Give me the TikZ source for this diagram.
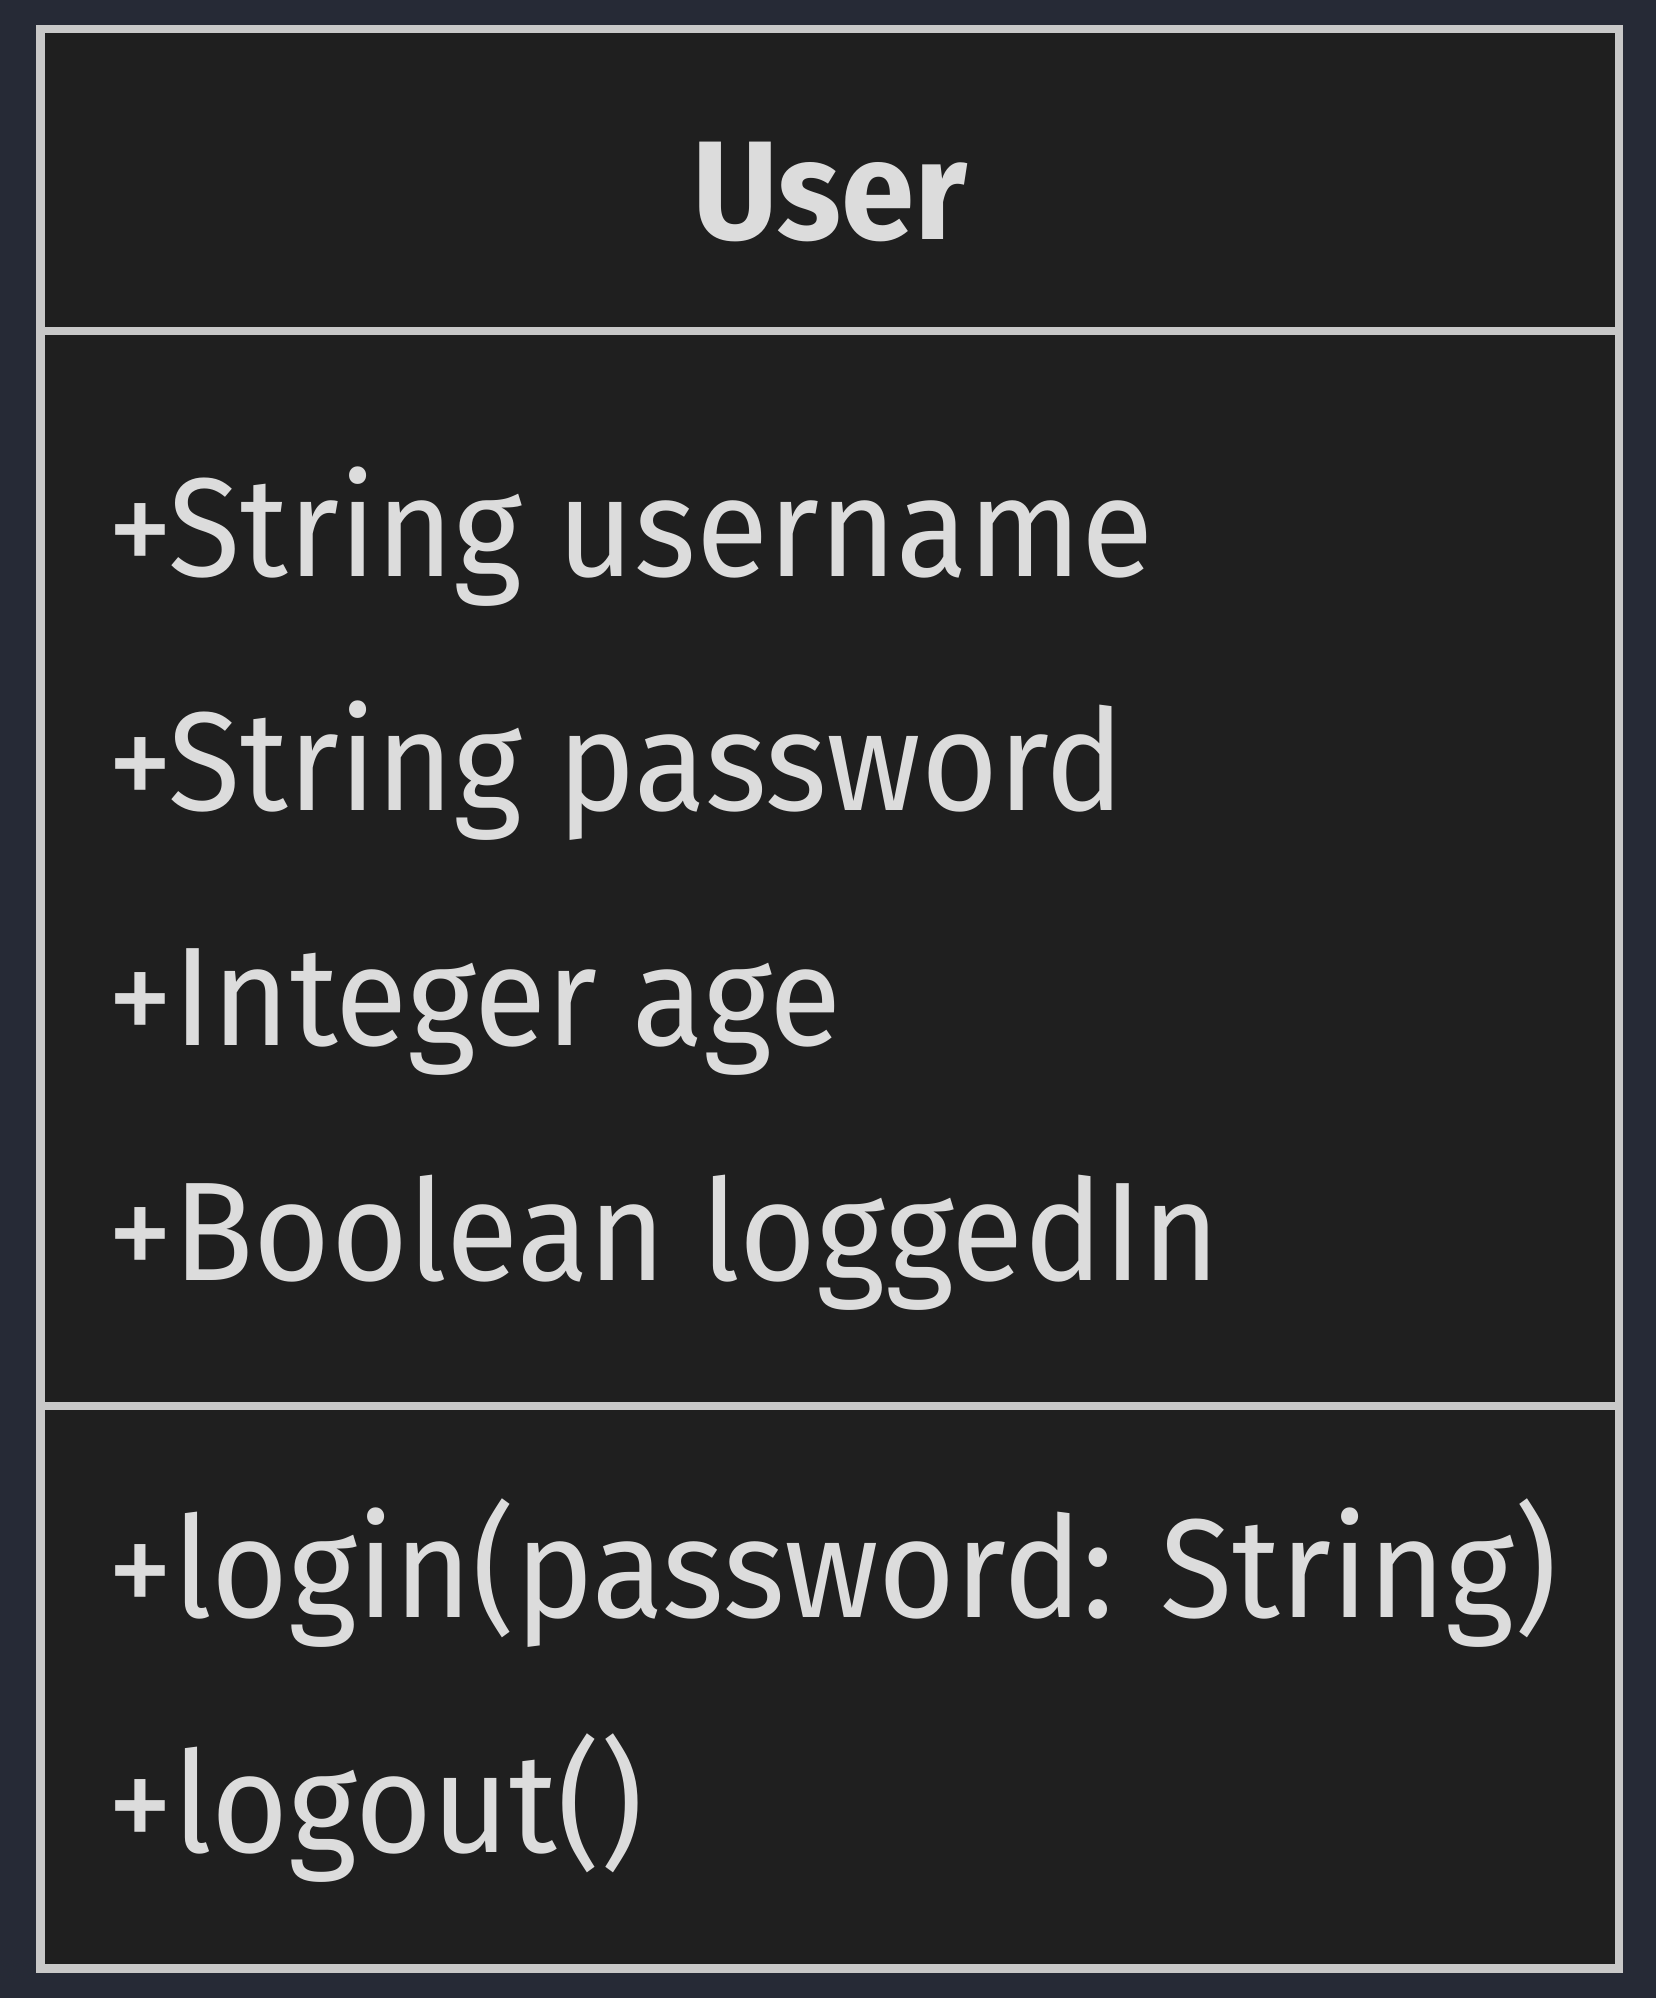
\documentclass[tikz,border=0pt]{standalone}
\usepackage{fontspec}
\setmainfont[FakeStretch=0.94]{Fira Sans}
\usetikzlibrary{positioning}
\definecolor{pagebg}{HTML}{262A36}
\definecolor{boxfill}{HTML}{1F1F1F}
\definecolor{boxline}{HTML}{C8C8C8}
\definecolor{boxtext}{HTML}{DCDCDC}
\tikzset{
  member/.style={anchor=base west, inner sep=0pt, text=boxtext, font=\fontsize{40}{48}\selectfont},
  classname/.style={anchor=base, inner sep=0pt, text=boxtext, font=\bfseries\fontsize{40}{48}\selectfont},
  rule/.style={draw=boxline, line width=0.85mm},
}

\begin{document}
\begin{tikzpicture}[x=0.1mm,y=-0.1mm]
  \fill[pagebg] (0,0) rectangle (1656,1998);
  \useasboundingbox (0,0) rectangle (1656,1998);
  % class box
  \draw[rule, fill=boxfill] (40.5,29) rectangle (1619,1968.5);
  \coordinate (sepa) at (40.5,331);
  \coordinate (sepb) at (40.5,1406);
  \draw[rule] (sepa) -- ++(1578.5,0);
  \draw[rule] (sepb) -- ++(1578.5,0);

  \node[classname] (user) at (830,239) {User};

  \node[member] (username) at (107,576) {+String username};
  \node[member] (password) at (107,810) {+String password};
  \node[member] (age) at (107,1045) {+Integer age};
  \node[member] (loggedin) at (107,1280) {+Boolean loggedIn};

  \node[member] (login) at (107,1617) {+login(password: String)};
  \node[member] (logout) at (107,1852) {+logout()};
\end{tikzpicture}
\end{document}
